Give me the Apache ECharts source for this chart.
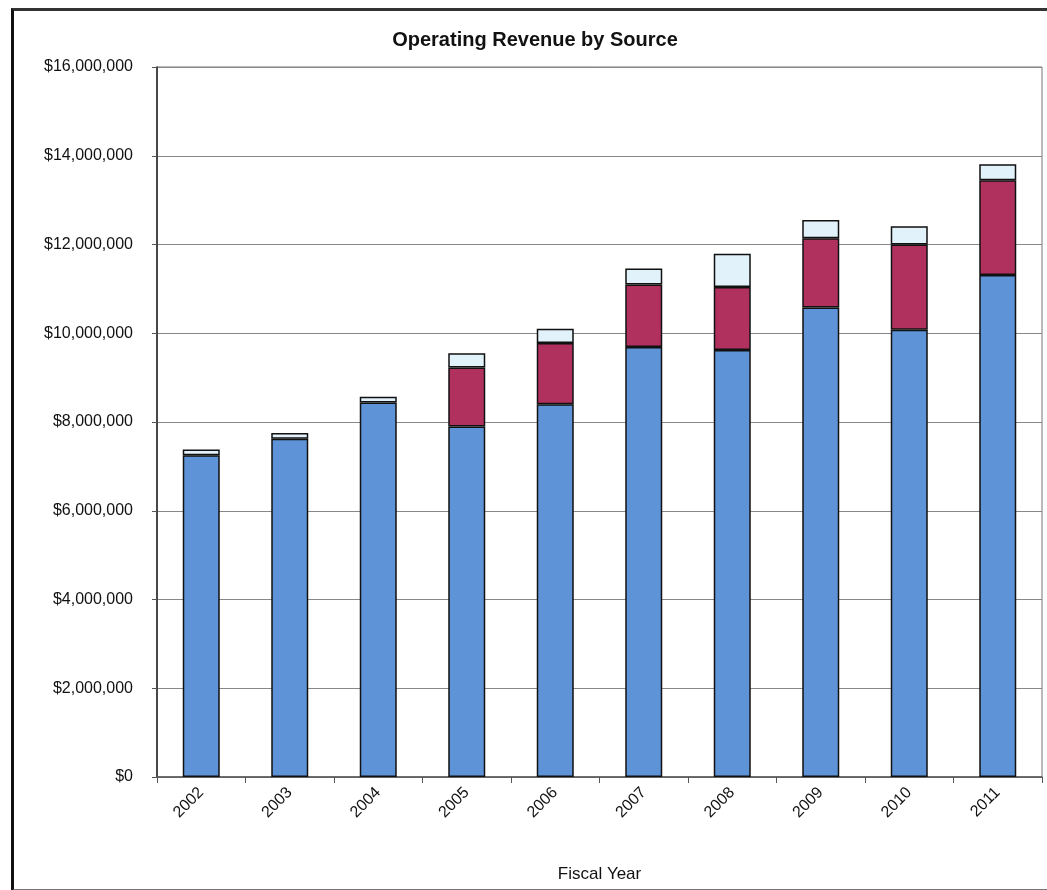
<!DOCTYPE html>
<html>
<head>
<meta charset="utf-8">
<title>Operating Revenue by Source</title>
<script src="https://cdn.jsdelivr.net/npm/echarts@6/dist/echarts.min.js"></script>
<style>
  html, body { margin: 0; padding: 0; background: #fff; }
  #chart { position: absolute; left: 0; top: 0; width: 1047px; height: 890px; }
  #frame {
    position: absolute; left: 11px; top: 8px; width: 1050px; height: 878px;
    border-left: 3px solid #111; border-top: 3px solid #333; border-bottom: 2px solid #777;
    pointer-events: none;
  }
</style>
</head>
<body>
<div id="chart"></div>
<div id="frame"></div>
<script>
// Fiscal years on the category axis
const years = ['2002', '2003', '2004', '2005', '2006', '2007', '2008', '2009', '2010', '2011'];

// Revenue by source, dollars (stacked bottom to top)
const baseRevenue = [7250000, 7620000, 8440000, 7900000, 8400000, 9690000, 9620000, 10580000, 10080000, 11310000];
const secondRevenue = [null, null, null, 1330000, 1380000, 1410000, 1420000, 1560000, 1920000, 2140000];
const otherRevenue = [130000, 130000, 130000, 320000, 320000, 360000, 750000, 410000, 410000, 360000];

// Value axis ticks
const yMin = 0;
const yMax = 16000000;
const yStep = 2000000;

const font = '"Liberation Sans", Arial, sans-serif';

function money(v) {
  return '$' + Math.round(v).toString().replace(/\B(?=(\d{3})+(?!\d))/g, ',');
}

const chart = echarts.init(document.getElementById('chart'), null, { renderer: 'canvas' });

const edge = { borderColor: '#111', borderWidth: 1.5 };

chart.setOption({
  animation: false,
  backgroundColor: '#fff',
  title: {
    text: 'Operating Revenue by Source',
    left: 530,
    textAlign: 'center',
    top: 25,
    textStyle: { fontFamily: font, fontSize: 20, fontWeight: 'bold', color: '#111' }
  },
  grid: {
    left: 157, right: 5, top: 67, bottom: 113,
    outerBoundsMode: 'none', containLabel: false,
    show: true, borderColor: '#777', borderWidth: 1
  },
  xAxis: {
    type: 'category',
    data: years,
    name: 'Fiscal Year',
    nameLocation: 'middle',
    nameGap: 89,
    nameTextStyle: { fontFamily: font, fontSize: 17, color: '#111' },
    axisLine: { lineStyle: { color: '#555', width: 1.5 } },
    axisTick: { show: true, alignWithLabel: false, length: 6, lineStyle: { color: '#555' } },
    axisLabel: { rotate: 45, fontFamily: font, fontSize: 16, color: '#111', margin: 13 }
  },
  yAxis: {
    type: 'value',
    min: yMin,
    max: yMax,
    interval: yStep,
    axisLine: { show: true, lineStyle: { color: '#222', width: 1.5 } },
    axisTick: { show: true, length: 5, lineStyle: { color: '#555' } },
    splitLine: { lineStyle: { color: '#888', width: 1.2 } },
    axisLabel: { formatter: money, fontFamily: font, fontSize: 16, color: '#111', margin: 24 }
  },
  series: [
    {
      name: 'Base', type: 'bar', stack: 'rev', barWidth: 37, data: baseRevenue,
      itemStyle: Object.assign({ color: '#5f93d8' }, edge)
    },
    {
      name: 'Second', type: 'bar', stack: 'rev', barWidth: 37, data: secondRevenue,
      itemStyle: Object.assign({ color: '#b0305e' }, edge)
    },
    {
      name: 'Other', type: 'bar', stack: 'rev', barWidth: 37, data: otherRevenue,
      itemStyle: Object.assign({ color: '#e2f2fa' }, edge)
    }
  ]
});
</script>
</body>
</html>
